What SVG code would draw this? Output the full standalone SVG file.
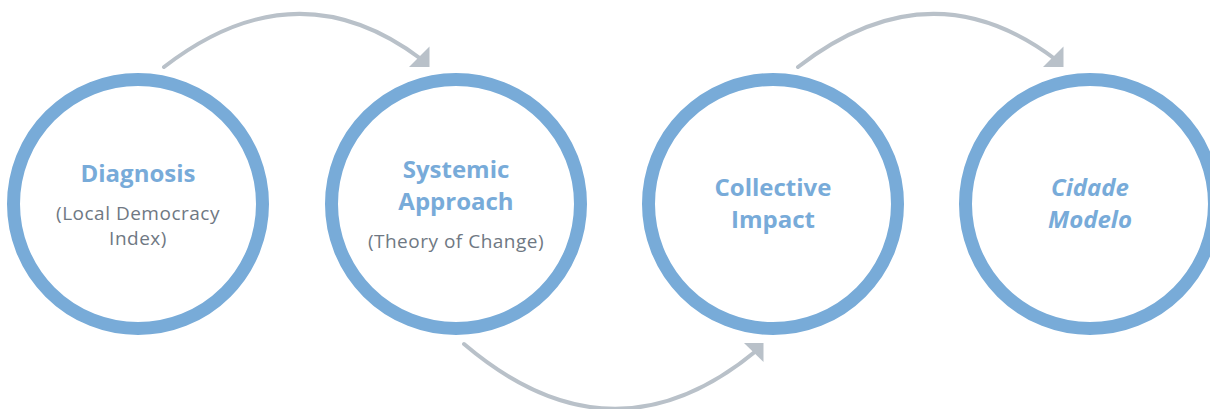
<svg xmlns="http://www.w3.org/2000/svg" width="1210" height="409" viewBox="0 0 1210 409">
  <style>
    .ring { fill: #ffffff; stroke: #78abd8; stroke-width: 13; }
    .title { font-family: "Open Sans", Lato, sans-serif; font-weight: 700; font-size: 24px; fill: #78abd9; text-anchor: middle; }
    .ital { font-style: italic; }
    .sub { font-family: "Open Sans", Lato, sans-serif; font-weight: 400; font-size: 19px; letter-spacing: 0.5px; fill: #6f7883; text-anchor: middle; }
    .conn { fill: none; stroke: #b9c1c9; stroke-width: 4; stroke-linecap: round; }
    .head { fill: #b9c1c9; }
  </style>
  <rect width="1210" height="409" fill="#ffffff"/>
  <g id="connectors">
    <path class="conn" d="M164,67 Q296,-35 421,59"/>
    <polygon class="head" points="429.5,46.5 429.5,67 409,67"/>
    <path class="conn" d="M464,344 Q612,470 756,351"/>
    <polygon class="head" points="763.5,343 763.5,362 744,343"/>
    <path class="conn" d="M798,67 Q930,-35 1055,59"/>
    <polygon class="head" points="1063.5,46.5 1063.5,67 1043,67"/>
  </g>
  <g id="node-diagnosis">
    <circle class="ring" cx="138" cy="204" r="124.5"/>
    <text class="title" x="138" y="182">Diagnosis</text>
    <text class="sub" x="138" y="220">(Local Democracy</text>
    <text class="sub" x="138" y="245">Index)</text>
  </g>
  <g id="node-systemic">
    <circle class="ring" cx="456" cy="204" r="124.5"/>
    <text class="title" x="456" y="178">Systemic</text>
    <text class="title" x="456" y="210">Approach</text>
    <text class="sub" x="456" y="248">(Theory of Change)</text>
  </g>
  <g id="node-collective">
    <circle class="ring" cx="773" cy="204" r="124.5"/>
    <text class="title" x="773" y="196">Collective</text>
    <text class="title" x="773" y="228">Impact</text>
  </g>
  <g id="node-cidade">
    <circle class="ring" cx="1090" cy="204" r="124.5"/>
    <text class="title ital" x="1090" y="196">Cidade</text>
    <text class="title ital" x="1090" y="228">Modelo</text>
  </g>
</svg>
